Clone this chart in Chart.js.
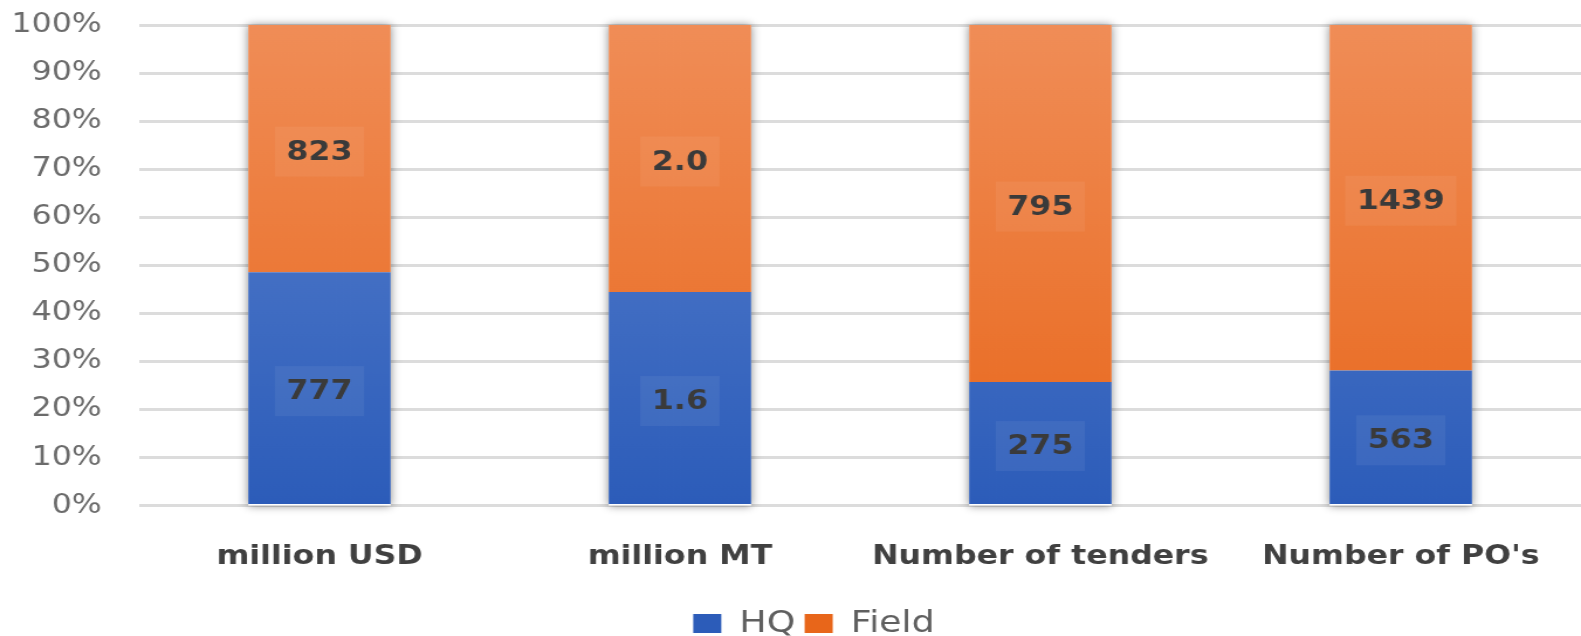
<!DOCTYPE html>
<html>
<head>
<meta charset="utf-8">
<script src="https://cdn.jsdelivr.net/npm/chart.js@4"></script>
<style>
  body { margin: 0; background: #fff; }
  #wrap { width: 1581px; height: 636px; overflow: hidden; }
  /* the original picture is stretched sideways, so the canvas is drawn narrow and widened */
  #chart { display: block; width: 1581px; height: 636px; }
</style>
</head>
<body>
<div id="wrap"><canvas id="chart" width="1351" height="636" style="width:1581px;height:636px"></canvas></div>
<script>
const categories = ['million USD', 'million MT', 'Number of tenders', "Number of PO's"];
const hqValues = [777, 1.6, 275, 563];
const fieldValues = [823, 2.0, 795, 1439];
const hqLabels = ['777', '1.6', '275', '563'];
const fieldLabels = ['823', '2.0', '795', '1439'];
const yTicks = ['0%', '10%', '20%', '30%', '40%', '50%', '60%', '70%', '80%', '90%', '100%'];

// share of each category total, so bars stack to 100%
const totals = hqValues.map((v, i) => v + fieldValues[i]);
const hqShare = hqValues.map((v, i) => v / totals[i] * 100);
const fieldShare = fieldValues.map((v, i) => v / totals[i] * 100);

function grad(ctx, top, bottom) {
    const chart = ctx.chart;
    const area = chart.chartArea;
    if (!area) return bottom;
    const g = chart.ctx.createLinearGradient(0, area.top, 0, area.bottom);
    g.addColorStop(0, top);
    g.addColorStop(1, bottom);
    return g;
}

const labelPlugin = {
    id: 'segLabels',
    afterLayout(chart) {
        // legend sits a little right of centre in the original
        chart.legend.left += 20;
        chart.legend.right += 20;
    },
    beforeDatasetsDraw(chart) {
        // soft shadow behind each full bar
        const c = chart.ctx;
        const y = chart.scales.y;
        c.save();
        c.shadowColor = 'rgba(0,0,0,0.45)';
        c.shadowBlur = 8;
        chart.getDatasetMeta(0).data.forEach(bar => {
            c.fillStyle = '#fff';
            c.fillRect(bar.x - bar.width / 2, y.top, bar.width, y.bottom - y.top);
        });
        c.restore();
    },
    afterDatasetsDraw(chart) {
        const c = chart.ctx;
        c.save();
        c.font = 'bold 27px "DejaVu Sans"';
        c.textAlign = 'center';
        c.textBaseline = 'middle';
        chart.data.datasets.forEach((ds, di) => {
            const labels = di === 0 ? hqLabels : fieldLabels;
            chart.getDatasetMeta(di).data.forEach((bar, i) => {
                const y = (bar.y + bar.base) / 2 + 3;
                const w = c.measureText(labels[i]).width + 20;
                c.fillStyle = 'rgba(255,255,255,0.06)';
                c.fillRect(bar.x - w / 2, y - 25, w, 50);
                c.fillStyle = '#3a3a3a';
                c.fillText(labels[i], bar.x, y + 1);
            });
        });
        c.restore();
    }
};

new Chart(document.getElementById('chart'), {
    type: 'bar',
    data: {
        labels: categories,
        datasets: [
            {
                label: 'HQ',
                data: hqShare,
                backgroundColor: ctx => grad(ctx, '#5b83cf', '#2c5cb9'),
                borderWidth: 0,
                barPercentage: 0.395,
                categoryPercentage: 1
            },
            {
                label: 'Field',
                data: fieldShare,
                backgroundColor: ctx => grad(ctx, '#f08d57', '#e8661a'),
                borderWidth: 0,
                barPercentage: 0.395,
                categoryPercentage: 1
            }
        ]
    },
    options: {
        responsive: false,
        animation: false,
        devicePixelRatio: 1,
        layout: { padding: { top: 25, right: 0, left: 0, bottom: -13 } },
        plugins: {
            legend: {
                position: 'bottom',
                labels: {
                    color: '#5f5f5f',
                    font: { family: '"DejaVu Sans"', size: 31 },
                    boxWidth: 24,
                    boxHeight: 19,
                    padding: 8
                }
            },
            tooltip: { enabled: false }
        },
        scales: {
            x: {
                stacked: true,
                grid: { display: false },
                border: { display: false },
                ticks: {
                    color: '#404040',
                    font: { family: '"DejaVu Sans"', size: 27, weight: 'bold' },
                    padding: 27,
                    maxRotation: 0
                }
            },
            y: {
                stacked: true,
                min: 0,
                max: 100,
                afterFit: s => { s.width = 119; },
                grid: { color: '#dcdcdc', lineWidth: 3, drawTicks: true, tickLength: 32, tickColor: 'rgba(0,0,0,0)' },
                border: { display: false },
                ticks: {
                    stepSize: 10,
                    color: '#6b6b6b',
                    font: { family: '"DejaVu Sans"', size: 27 },
                    padding: 0,
                    callback: (v, i) => yTicks[i]
                }
            }
        }
    },
    plugins: [labelPlugin]
});
</script>
</body>
</html>
